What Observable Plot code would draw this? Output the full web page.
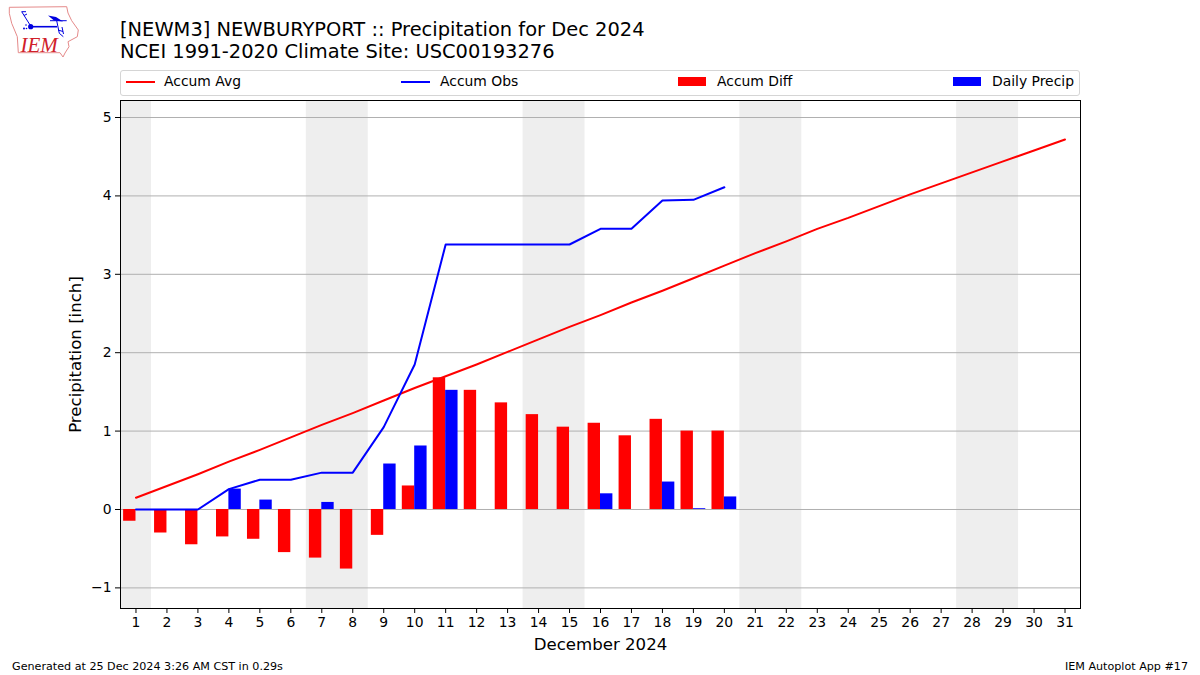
<!DOCTYPE html>
<html><head><meta charset="utf-8">
<script src="https://cdn.jsdelivr.net/npm/d3@7"></script>
<script src="https://cdn.jsdelivr.net/npm/@observablehq/plot@0.6"></script>
<style>
html,body{margin:0;padding:0;background:#fff;font-family:"DejaVu Sans",sans-serif;color:#000}
#page{position:relative;width:1200px;height:675px;overflow:hidden}
#title{position:absolute;left:120px;top:18px;font-size:19.45px;line-height:22px;white-space:nowrap;padding-top:1px}
#legend{position:absolute;left:120px;top:70px;width:958px;height:24px;border:1px solid #d5d5d5;border-radius:3px}
.lab{position:absolute;top:2px;font-size:13.9px;line-height:17px;white-space:nowrap}
.ln{position:absolute;top:10px;width:29px;height:2px}
.sw{position:absolute;top:6px;width:28px;height:9px}
#chart{position:absolute;left:0;top:95px}
.foot{position:absolute;top:660px;font-size:11.15px;line-height:13px;white-space:nowrap}
#logo{position:absolute;left:0;top:0}
g[aria-label="x-axis label"] text,g[aria-label="y-axis label"] text{font-size:16.6px}
</style></head><body>
<div id="page">
<svg id="logo" width="90" height="62" viewBox="0 0 90 62">
<path d="M9.3 7.3L66.7 6.7L68 13L71.7 20.7L78.3 30L77.3 36.7L68 41.7L69 46.7L65 53L63 57L60 52.7L18.3 52.7L17.3 36.7L11.7 23.3L9.3 13.3Z" fill="#fff" stroke="#e58a8a" stroke-width="1"/>
<path d="M30.7 26.7L57 26.7" stroke="#0000e0" stroke-width="1.6"/>
<circle cx="30.7" cy="26.7" r="2.6" fill="#0000e0"/>
<path d="M30.7 26L21.7 11.7M21.7 11.7L26 11.7M24 15.5L27 14" stroke="#0000e0" stroke-width="1" fill="none"/>
<path d="M48 15.5L56 17L63 21.5L54 20.5Z" fill="#0000e0"/>
<path d="M50 20.7L66.7 20.7M56.7 20.7L59.3 33.3M59.3 33.3L63.3 36.7M58 30L63 31.5M62 27L63.5 34" stroke="#0000e0" stroke-width="1" fill="none"/>
<circle cx="24" cy="28.5" r="1" fill="#0000e0"/><circle cx="26" cy="25" r="0.8" fill="#0000e0"/><circle cx="26.5" cy="28.5" r="0.8" fill="#0000e0"/>
<text x="20.5" y="51.5" font-family="Liberation Serif" font-style="italic" font-size="21" fill="#d0202a">IEM</text>
</svg>
<div id="title">[NEWM3] NEWBURYPORT :: Precipitation for Dec 2024<br>NCEI 1991-2020 Climate Site: USC00193276</div>
<div id="legend">
<div class="ln" style="left:5px;background:#f00"></div><div class="lab" style="left:43px">Accum Avg</div>
<div class="ln" style="left:280px;background:#00f"></div><div class="lab" style="left:319px">Accum Obs</div>
<div class="sw" style="left:557px;background:#f00"></div><div class="lab" style="left:596px">Accum Diff</div>
<div class="sw" style="left:832px;background:#00f"></div><div class="lab" style="left:871px">Daily Precip</div>
</div>
<div id="chart"></div>
<div class="foot" style="left:12px">Generated at 25 Dec 2024 3:26 AM CST in 0.29s</div>
<div class="foot" style="right:12px">IEM Autoplot App #17</div>
</div>
<script>
const days = d3.range(1, 32);
const accumAvg = [0.15,0.30,0.45,0.61,0.76,0.92,1.08,1.23,1.39,1.55,1.70,1.85,2.01,2.17,2.33,2.48,2.64,2.79,2.95,3.11,3.27,3.42,3.58,3.72,3.87,4.02,4.16,4.30,4.44,4.58,4.72];
const accumObs = [0,0,0,0.26,0.38,0.38,0.47,0.47,1.05,1.85,3.38,3.38,3.38,3.38,3.38,3.58,3.58,3.94,3.95,4.11];
const accumDiff = [-0.15,-0.30,-0.45,-0.35,-0.38,-0.55,-0.62,-0.76,-0.33,0.30,1.68,1.52,1.36,1.21,1.05,1.10,0.94,1.15,1.00,1.00];
const dailyPrecip = [0,0,0,0.26,0.12,0,0.09,0,0.58,0.81,1.52,0,0,0,0,0.20,0,0.35,0.01,0.16];
const weekends = [[0.5,1.5],[6.5,8.5],[13.5,15.5],[20.5,22.5],[27.5,29.5]];
const yTicks = [-1,0,1,2,3,4,5];
const yDomain = [-1.263,5.217];
const barW = 0.4;

const plot = Plot.plot({
  width:1200, height:560,
  marginLeft:120, marginRight:120, marginTop:5, marginBottom:47,
  style:{fontFamily:"DejaVu Sans",fontSize:"13.9px",background:"transparent",color:"#000"},
  x:{domain:[0.5,31.5]},
  y:{domain:yDomain},
  marks:[
    Plot.rect(weekends,{x1:d=>d[0],x2:d=>d[1],y1:yDomain[0],y2:yDomain[1],fill:"#eeeeee"}),
    Plot.ruleY(yTicks,{stroke:"#b0b0b0",strokeWidth:1}),
    Plot.rect(accumDiff,{x1:(d,i)=>days[i]-barW,x2:(d,i)=>days[i],y1:0,y2:d=>d,fill:"#f00"}),
    Plot.rect(dailyPrecip.map((v,i)=>({v,day:days[i]})).filter(d=>d.v>0),{x1:d=>d.day,x2:d=>d.day+barW,y1:0,y2:d=>d.v,fill:"#00f"}),
    Plot.line(accumAvg,{x:(d,i)=>days[i],y:d=>d,stroke:"#f00",strokeWidth:2,curve:"linear"}),
    Plot.line(accumObs,{x:(d,i)=>days[i],y:d=>d,stroke:"#00f",strokeWidth:2,curve:"linear"}),
    Plot.frame({stroke:"#000",strokeWidth:1}),
    Plot.axisX(days,{tickSize:5,tickPadding:4,tickFormat:d=>String(d),label:"December 2024",labelAnchor:"center",labelArrow:"none",labelOffset:41}),
    Plot.axisY(yTicks,{tickSize:5,tickPadding:4,tickFormat:d=>d<0?"\u2212"+Math.abs(d):String(d),label:"Precipitation [inch]",labelAnchor:"center",labelArrow:"none",labelOffset:51})
  ]
});
document.getElementById("chart").appendChild(plot);
</script>
</body></html>
